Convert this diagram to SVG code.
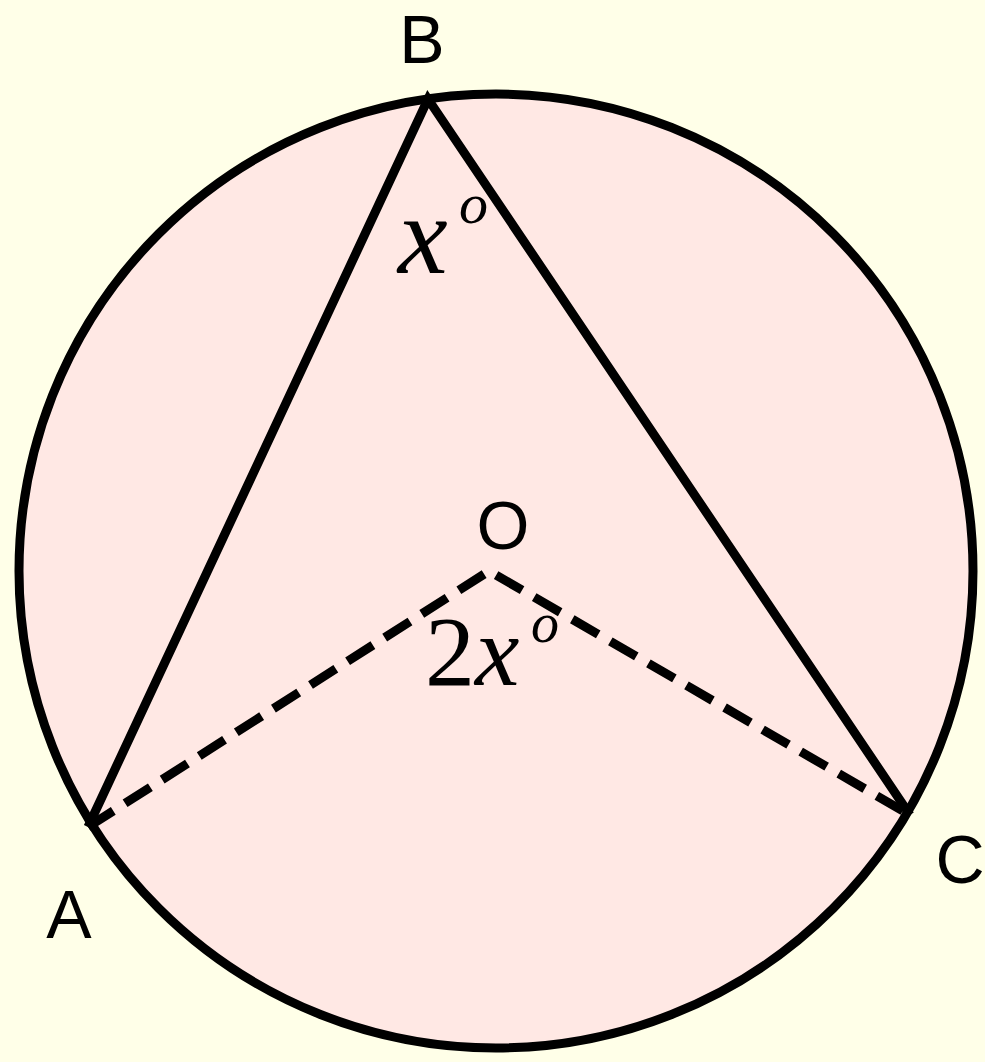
<svg xmlns="http://www.w3.org/2000/svg" width="985" height="1062" viewBox="0 0 985 1062">
<style>
.lbl{font-family:"Liberation Sans",Arial,sans-serif;font-size:68px;fill:#000;text-anchor:middle}
.m{font-family:"Liberation Serif","Times New Roman",serif;fill:#000}
.solid{stroke:#000;stroke-width:9;fill:none;stroke-linejoin:miter;stroke-linecap:butt}
.dash{stroke:#000;stroke-width:9;fill:none;stroke-dasharray:30 14;stroke-linejoin:miter}
</style>
<rect width="985" height="1062" fill="#ffffe8"/>
<g id="circle">
<circle cx="496" cy="571" r="477" fill="#ffe8e4" stroke="#000" stroke-width="9"/>
</g>
<g id="connectors">
<path class="solid" d="M88,827 L428,99 L910,815"/>
<path class="dash" d="M88,827 L489,571 L910,815"/>
</g>
<g id="B"><text class="lbl" x="422" y="63">B</text></g>
<g id="O"><text class="lbl" x="503" y="549">O</text></g>
<g id="A"><text class="lbl" x="69" y="938">A</text></g>
<g id="C"><text class="lbl" x="960" y="883">C</text></g>
<g id="angleB"><text class="m" x="398" y="273" font-size="112" font-style="italic">x</text><text class="m" x="459" y="223" font-size="58" font-style="italic">o</text></g>
<g id="angleO"><text class="m" x="425" y="685" font-size="100">2<tspan font-style="italic">x</tspan></text><text class="m" x="531" y="642" font-size="56" font-style="italic">o</text></g>
</svg>
